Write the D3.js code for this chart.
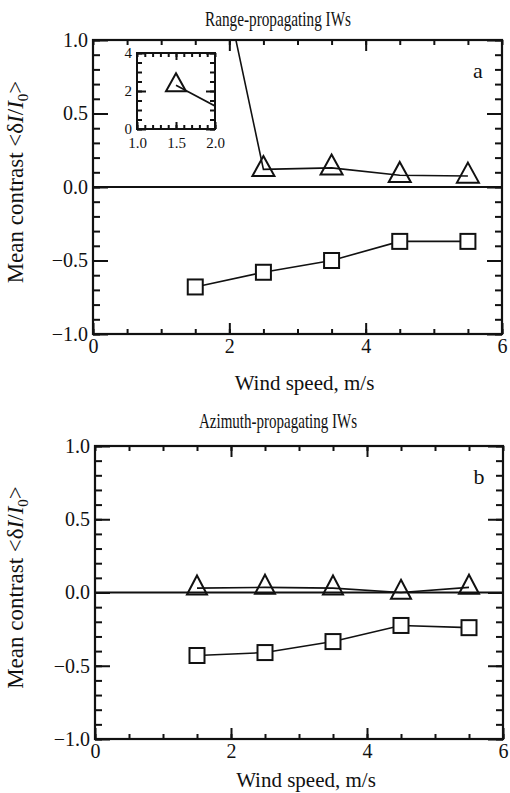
<!DOCTYPE html>
<html>
<head>
<meta charset="utf-8">
<script src="https://cdn.jsdelivr.net/npm/d3@7"></script>
<style>
  body { margin: 0; background: #fff; }
  svg text { font-family: "Liberation Serif", "Times New Roman", serif; fill: #111; }
</style>
</head>
<body>
<svg id="chart" width="510" height="793"></svg>
<script>
// wind speed bins, m/s
const windSpeed = [1.5, 2.5, 3.5, 4.5, 5.5];

// panel a: range-propagating IWs
const rangeTriangles = [2.3, 0.12, 0.13, 0.08, 0.075];
const rangeSquares = [-0.68, -0.58, -0.5, -0.37, -0.37];

// panel b: azimuth-propagating IWs
const azimuthTriangles = [0.03, 0.035, 0.03, 0.0, 0.035];
const azimuthSquares = [-0.43, -0.41, -0.335, -0.225, -0.24];

const xMajorTicks = [0, 2, 4, 6];
const yMajorTicks = [-1, -0.5, 0, 0.5, 1];
const insetXTicks = [1.0, 1.5, 2.0];
const insetYTicks = [0, 2, 4];

const svg = d3.select('#chart');

const panels = [
    {
        title: 'Range-propagating IWs', letter: 'a',
        tri: rangeTriangles, sq: rangeSquares,
        left: 93, right: 502, top: 40, bottom: 334,
        titleY: 26, xLabelY: 390, inset: true,
    },
    {
        title: 'Azimuth-propagating IWs', letter: 'b',
        tri: azimuthTriangles, sq: azimuthSquares,
        left: 95, right: 503, top: 446, bottom: 739,
        titleY: 428, xLabelY: 787, inset: false,
    },
];

function triPath(w, h) {
    return `M0,${-h * 2 / 3}L${w / 2},${h / 3}L${-w / 2},${h / 3}Z`;
}

function cleanAxis(sel) {
    sel.select('.domain').remove();
    sel.selectAll('.tick line').attr('stroke', '#111').attr('stroke-width', 2);
}

function drawTicks(g, x, y, p, o) {
    g.append('g').attr('transform', `translate(0,${p.bottom})`)
        .call(d3.axisBottom(x).tickValues(o.xMinor).tickSize(-o.xMinorLen).tickFormat(''))
        .call(cleanAxis);
    g.append('g').attr('transform', `translate(0,${p.top})`)
        .call(d3.axisTop(x).tickValues(o.xMinor).tickSize(-o.xMinorLen).tickFormat(''))
        .call(cleanAxis);
    g.append('g').attr('transform', `translate(${p.left},0)`)
        .call(d3.axisLeft(y).tickValues(o.yMinor).tickSize(-o.yMinorLen).tickFormat(''))
        .call(cleanAxis);
    g.append('g').attr('transform', `translate(${p.right},0)`)
        .call(d3.axisRight(y).tickValues(o.yMinor).tickSize(-o.yMinorLen).tickFormat(''))
        .call(cleanAxis);

    const bx = g.append('g').attr('transform', `translate(0,${p.bottom})`)
        .call(d3.axisBottom(x).tickValues(o.xMajor).tickSize(-o.xMajorLen).tickPadding(o.xPad).tickFormat(o.xFmt))
        .call(cleanAxis);
    bx.selectAll('text').attr('font-size', o.font).attr('font-family', null);
    g.append('g').attr('transform', `translate(0,${p.top})`)
        .call(d3.axisTop(x).tickValues(o.xMajorTop).tickSize(-o.xMajorLen).tickFormat(''))
        .call(cleanAxis);
    const ly = g.append('g').attr('transform', `translate(${p.left},0)`)
        .call(d3.axisLeft(y).tickValues(o.yMajor).tickSize(-o.yMajorLen).tickPadding(o.yPad).tickFormat(o.yFmt))
        .call(cleanAxis);
    ly.selectAll('text').attr('font-size', o.font).attr('font-family', null);
    g.append('g').attr('transform', `translate(${p.right},0)`)
        .call(d3.axisRight(y).tickValues(o.yMajor).tickSize(-o.yMajorLen).tickFormat(''))
        .call(cleanAxis);
}

function drawSeries(g, x, y, clipId, tri, sq, triW, triH, sqS) {
    const line = d3.line().x((d, i) => x(windSpeed[i])).y(d => y(d));
    const cg = g.append('g').attr('clip-path', `url(#${clipId})`);
    cg.append('path').datum(tri).attr('d', line)
        .attr('fill', 'none').attr('stroke', '#111').attr('stroke-width', 1.6);
    if (sq) {
        cg.append('path').datum(sq).attr('d', line)
            .attr('fill', 'none').attr('stroke', '#111').attr('stroke-width', 1.6);
        cg.selectAll('rect.sq').data(sq).enter().append('rect').attr('class', 'sq')
            .attr('x', (d, i) => x(windSpeed[i]) - sqS / 2)
            .attr('y', d => y(d) - sqS / 2)
            .attr('width', sqS).attr('height', sqS)
            .attr('fill', '#fff').attr('stroke', '#111').attr('stroke-width', 2);
    }
    cg.selectAll('path.tri').data(tri).enter().append('path').attr('class', 'tri')
        .attr('transform', (d, i) => `translate(${x(windSpeed[i])},${y(d)})`)
        .attr('d', triPath(triW, triH))
        .attr('fill', 'none').attr('stroke', '#111').attr('stroke-width', 2);
}

panels.forEach((p, k) => {
    const g = svg.append('g');
    const x = d3.scaleLinear().domain([0, 6]).range([p.left, p.right]);
    const y = d3.scaleLinear().domain([-1, 1]).range([p.bottom, p.top]);
    const clipId = 'clip' + k;

    svg.append('clipPath').attr('id', clipId).append('rect')
        .attr('x', p.left).attr('y', p.top)
        .attr('width', p.right - p.left).attr('height', p.bottom - p.top);

    // zero line
    g.append('line')
        .attr('x1', p.left).attr('x2', p.right)
        .attr('y1', y(0)).attr('y2', y(0))
        .attr('stroke', '#111').attr('stroke-width', 1.8);

    drawTicks(g, x, y, p, {
        xMinor: d3.range(0, 6.01, 0.5), xMinorLen: 5,
        xMajor: xMajorTicks, xMajorTop: [2, 4], xMajorLen: 11,
        yMinor: d3.range(-1, 1.01, 0.1), yMinorLen: 7,
        yMajor: yMajorTicks, yMajorLen: 15,
        xFmt: d3.format('d'), yFmt: d3.format('.1f'),
        font: 20, xPad: 5, yPad: 5,
    });

    g.append('rect')
        .attr('x', p.left).attr('y', p.top)
        .attr('width', p.right - p.left).attr('height', p.bottom - p.top)
        .attr('fill', 'none').attr('stroke', '#111').attr('stroke-width', 2.2);

    drawSeries(g, x, y, clipId, p.tri, p.sq,
        k === 0 ? 22 : 20, k === 0 ? 20 : 19, 15);

    g.append('text').attr('x', 278).attr('y', p.titleY)
        .attr('text-anchor', 'middle').attr('font-size', 21)
        .attr('textLength', k === 0 ? 146 : 158).attr('lengthAdjust', 'spacingAndGlyphs')
        .text(p.title);

    g.append('text').attr('x', (p.left + p.right) / 2 + 7).attr('y', p.xLabelY)
        .attr('text-anchor', 'middle').attr('font-size', 21)
        .text('Wind speed, m/s');

    g.append('text').attr('x', p.right - 24).attr('y', p.top + 38)
        .attr('text-anchor', 'middle').attr('font-size', 22)
        .text(p.letter);

    const yl = g.append('text')
        .attr('transform', `translate(23,${(p.top + p.bottom) / 2 - 5}) rotate(-90)`)
        .attr('text-anchor', 'middle').attr('font-size', 23);
    yl.append('tspan').text('Mean contrast <δ');
    yl.append('tspan').attr('font-style', 'italic').text('I');
    yl.append('tspan').text('/');
    yl.append('tspan').attr('font-style', 'italic').text('I');
    yl.append('tspan').attr('font-size', 15).attr('dy', 5).text('0');
    yl.append('tspan').attr('dy', -5).text('>');

    if (p.inset) {
        const ip = { left: 137, right: 215, top: 53, bottom: 129 };
        const ix = d3.scaleLinear().domain([1, 2]).range([ip.left, ip.right]);
        const iy = d3.scaleLinear().domain([0, 4]).range([ip.bottom, ip.top]);
        const ig = g.append('g');
        svg.append('clipPath').attr('id', 'clipInset').append('rect')
            .attr('x', ip.left).attr('y', ip.top)
            .attr('width', ip.right - ip.left).attr('height', ip.bottom - ip.top);

        drawTicks(ig, ix, iy, ip, {
            xMinor: d3.range(1, 2.001, 0.1), xMinorLen: 4,
            xMajor: insetXTicks, xMajorTop: [1.5], xMajorLen: 7,
            yMinor: d3.range(0, 4.01, 0.5), yMinorLen: 5,
            yMajor: insetYTicks, yMajorLen: 9,
            xFmt: d3.format('.1f'), yFmt: d3.format('d'),
            font: 15, xPad: 8, yPad: 5,
        });

        ig.append('rect')
            .attr('x', ip.left).attr('y', ip.top)
            .attr('width', ip.right - ip.left).attr('height', ip.bottom - ip.top)
            .attr('fill', 'none').attr('stroke', '#111').attr('stroke-width', 2);

        drawSeries(ig, ix, iy, 'clipInset', p.tri, null, 20, 18, 0);
    }
});
</script>
</body>
</html>
